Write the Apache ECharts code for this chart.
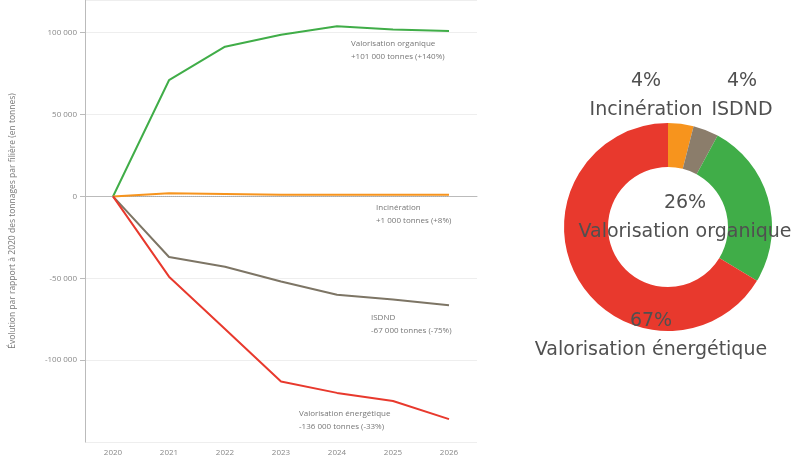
<!DOCTYPE html>
<html><head><meta charset="utf-8">
<script src="https://cdn.jsdelivr.net/npm/echarts@6/dist/echarts.min.js"></script>
<style>html,body{margin:0;padding:0;background:#fff}#c{width:802px;height:459px}</style>
</head><body><div id="c"></div>
<script>
const years = ['2020','2021','2022','2023','2024','2025','2026'];
const valOrganique = [0, 71000, 91500, 98800, 104000, 102000, 101000];
const incineration = [0, 2000, 1500, 1000, 1000, 1000, 1000];
const isdnd = [0, -37000, -43000, -52000, -60000, -63000, -66500];
const valEnergetique = [0, -49000, -81000, -113000, -120000, -125000, -136000];
const lineNames = ['Valorisation organique','Incinération','ISDND','Valorisation énergétique'];
const lineNotes = ['+101 000 tonnes (+140%)','+1 000 tonnes (+8%)','-67 000 tonnes (-75%)','-136 000 tonnes (-33%)'];
const pieNames = ['Incinération','ISDND','Valorisation organique','Valorisation énergétique'];
const pieValues = [4, 4, 26, 67];
const colors = {green:'#40ad48', orange:'#f7941d', gray:'#7d7565', red:'#e8392d', brown:'#8b7d6b'};

const fmt = v => (v<0?'-':'') + Math.abs(v).toString().replace(/\B(?=(\d{3})+(?!\d))/g,' ');
const chart = echarts.init(document.getElementById('c'));
const lineSeries = [
  {name:lineNames[0], data:valOrganique, color:colors.green},
  {name:lineNames[1], data:incineration, color:colors.orange},
  {name:lineNames[2], data:isdnd, color:colors.gray},
  {name:lineNames[3], data:valEnergetique, color:colors.red}
].map(s => ({type:'line', name:s.name, data:s.data, symbol:'none', smooth:false,
  lineStyle:{color:s.color, width:2}, itemStyle:{color:s.color}, z:3}));

chart.setOption({
  animation:false,
  textStyle:{fontFamily:'Open Sans'},
  grid:{left:85, right:325, top:0, bottom:17},
  xAxis:{type:'category', data:years, boundaryGap:true,
    axisLine:{lineStyle:{color:'#bbb'}}, axisTick:{show:false},
    axisLabel:{color:'#888', fontSize:8, margin:7}},
  yAxis:{type:'value', min:-150000, max:120000, interval:50000,
    name:'Évolution par rapport à 2020 des tonnages par filière (en tonnes)', nameLocation:'middle', nameGap:68,
    nameTextStyle:{color:'#777', fontSize:8.5},
    axisLine:{show:true, lineStyle:{color:'#bbb'}}, axisTick:{show:true, lineStyle:{color:'#bbb'}},
    axisLabel:{color:'#888', fontSize:8, showMinLabel:false, showMaxLabel:false, formatter:fmt},
    splitLine:{lineStyle:{color:'#eee'}}},
  series:[...lineSeries,
    {type:'line', data:years.map(()=>0), symbol:'none', lineStyle:{color:'#aaa', width:1, type:'dotted'}, z:2, silent:true},
    {type:'pie', center:[668,227], radius:[60,104], startAngle:90, clockwise:true,
      avoidLabelOverlap:false,
      data:pieNames.map((n,i)=>({name:n, value:pieValues[i],
        itemStyle:{color:[colors.orange,colors.brown,colors.green,colors.red][i]}})),
      label:{show:true, formatter:p=>p.value+'%\n'+p.name, color:'#505050', fontSize:19, lineHeight:29,
        fontFamily:'DejaVu Sans', align:'center', overflow:'none', width:400},
      labelLine:{show:false},
      labelLayout:function(p){
        const pos=[[646,96],[742,96],[685,218],[651,336]];
        return {x:pos[p.dataIndex][0], y:pos[p.dataIndex][1], align:'center', verticalAlign:'middle',
          hideOverlap:false, moveOverlap:null};
      }, z:5}
  ]
});

// annotation texts below the end of each line, positioned via the axis scale
const ends = [valOrganique, incineration, isdnd, valEnergetique];
const offs = [[-98,6,'left'],[-73,6,'left'],[-78,6,'left'],[-150,-12,'left']];
const graphics = ends.map((d,i)=>{
  const pt = chart.convertToPixel({seriesIndex:i}, [years.length-1, d[d.length-1]]);
  return {type:'text', x:pt[0]+offs[i][0], y:pt[1]+offs[i][1],
    style:{text:lineNames[i]+'\n'+lineNotes[i], fill:'#777', fontSize:8, lineHeight:13, fontFamily:'Open Sans', align:offs[i][2]}};
});
chart.setOption({graphic:graphics});
</script></body></html>
